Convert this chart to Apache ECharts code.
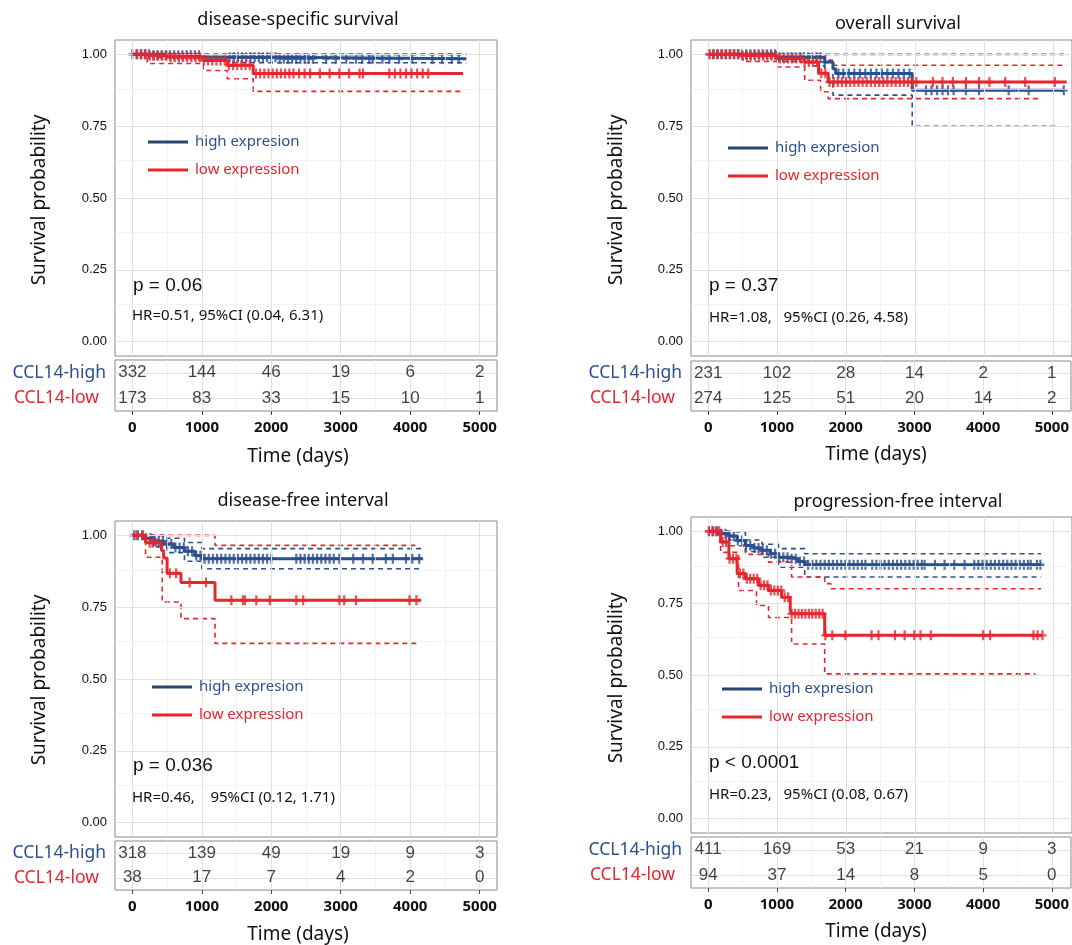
<!DOCTYPE html>
<html><head><meta charset="utf-8">
<script src="https://cdn.jsdelivr.net/npm/echarts@6/dist/echarts.min.js"></script>
<style>html,body{margin:0;padding:0;background:#fff}#c{width:1072px;height:945px}</style>
</head><body><div id="c"></div>
<script>
// ---------- data ----------
const timeTicks = [0, 1000, 2000, 3000, 4000, 5000];
const yTicks = [0, 0.25, 0.5, 0.75, 1];
const groups = ['CCL14-high', 'CCL14-low'];
const legendLabels = ['high expresion', 'low expression'];

// disease-specific survival
const dssHighSteps = [[0,1],[300,0.997],[1020,0.99],[2100,0.985],[4810,0.985]];
const dssHighUpper = [[0,1],[4810,1]];
const dssHighLower = [[0,1],[300,0.99],[1020,0.978],[1400,0.971],[4810,0.971]];
const dssLowSteps = [[0,1],[200,0.995],[500,0.99],[1020,0.979],[1365,0.962],[1740,0.933],[4760,0.933]];
const dssLowUpper = [[0,1],[4760,1]];
const dssLowLower = [[0,1],[215,0.968],[1020,0.944],[1365,0.915],[1740,0.871],[4760,0.871]];
const dssHighCensor = [0,60,120,180,240,300,360,420,480,540,600,660,720,780,840,900,960,1400,1460,1520,1580,1640,1700,1760,1820,1880,1940,2000,2060,2120,2180,2240,2300,2360,2420,2480,2540,2600,2790,2930,3080,3220,3310,3410,3460,3600,3700,3840,4030,4320,4460,4600,4700];
const dssLowCensor = [70,130,190,250,310,370,430,490,550,610,670,730,790,850,910,970,1030,1090,1150,1210,1270,1330,1390,1450,1510,1570,1630,1690,1780,1840,1900,1960,2020,2080,2140,2200,2260,2320,2400,2480,2560,2700,2840,2980,3120,3270,3320,3700,3780,3860,3940,4020,4100,4180,4260];
const dssHighRisk = [332, 144, 46, 19, 6, 2];
const dssLowRisk = [173, 83, 33, 15, 10, 1];

// overall survival
const osHighSteps = [[0,1],[1020,0.99],[1690,0.973],[1810,0.95],[1850,0.933],[2960,0.875],[5160,0.875]];
const osHighUpper = [[0,1],[5160,1]];
const osHighLower = [[0,1],[1020,0.975],[1500,0.96],[1690,0.93],[1810,0.858],[2960,0.75],[5040,0.75]];
const osLowSteps = [[0,1],[500,0.995],[1000,0.986],[1400,0.973],[1600,0.934],[1740,0.904],[5200,0.904]];
const osLowUpper = [[0,1],[1400,1],[1700,0.98],[1800,0.962],[5200,0.962]];
const osLowLower = [[0,1],[500,0.975],[1000,0.956],[1400,0.91],[1630,0.87],[1740,0.846],[4800,0.846]];
const osHighCensor = [10,70,130,190,250,310,370,430,490,550,610,670,730,790,850,910,970,1030,1090,1150,1210,1270,1330,1390,1450,1510,1570,1630,1690,1890,1960,2040,2120,2200,2280,2360,2440,2520,2600,2680,2760,2840,2920,3160,3240,3320,3400,3480,3560,3740,3930,4360,4650,5160];
const osLowCensor = [20,80,140,200,260,320,380,440,500,560,620,680,740,800,860,920,980,1040,1100,1160,1220,1280,1340,1400,1460,1520,1580,1640,1700,1760,1820,1880,1940,2000,2060,2120,2180,2240,2300,2360,2420,2480,2540,2600,2660,2720,2780,2840,2900,2960,3020,3260,3400,3550,3740,3930,4080,4310,4600,5030];
const osHighRisk = [231, 102, 28, 14, 2, 1];
const osLowRisk = [274, 125, 51, 20, 14, 2];

// disease-free interval
const dfiHighSteps = [[0,1],[150,0.99],[300,0.98],[450,0.97],[600,0.958],[750,0.945],[900,0.93],[1000,0.919],[4180,0.919]];
const dfiHighUpper = [[0,1],[500,0.99],[750,0.975],[1000,0.954],[4180,0.954]];
const dfiHighLower = [[0,1],[300,0.96],[500,0.94],[750,0.91],[1000,0.884],[4180,0.884]];
const dfiLowSteps = [[0,1],[190,0.974],[420,0.947],[450,0.921],[500,0.868],[700,0.836],[1190,0.774],[4160,0.774]];
const dfiLowUpper = [[0,1],[1190,0.965],[4130,0.965]];
const dfiLowLower = [[0,1],[190,0.924],[430,0.768],[700,0.71],[1190,0.624],[4130,0.624]];
const dfiHighCensor = [20,80,140,200,260,320,380,440,500,560,620,680,740,800,860,920,980,1040,1100,1160,1220,1280,1340,1400,1460,1520,1580,1640,1700,1760,1820,1880,1940,2000,2360,2420,2480,2540,2600,2660,2720,2780,2840,2900,2980,3180,3320,3460,3650,3750,3940,4030,4130];
const dfiLowCensor = [57,153,250,290,345,540,630,825,1060,1425,1590,1620,1785,1980,2360,2460,2980,3050,3220,3990,4090];
const dfiHighRisk = [318, 139, 49, 19, 9, 3];
const dfiLowRisk = [38, 17, 7, 4, 2, 0];

// progression-free interval
const pfiHighSteps = [[0,1],[150,0.992],[300,0.984],[420,0.968],[540,0.951],[660,0.942],[780,0.934],[900,0.922],[1020,0.91],[1210,0.905],[1300,0.895],[1400,0.884],[4830,0.884]];
const pfiHighUpper = [[0,1],[300,0.997],[540,0.97],[780,0.955],[1020,0.94],[1400,0.922],[4830,0.922]];
const pfiHighLower = [[0,1],[300,0.97],[540,0.93],[780,0.91],[1020,0.875],[1400,0.841],[4830,0.841]];
const pfiLowSteps = [[0,1],[180,0.963],[300,0.905],[420,0.853],[540,0.835],[730,0.812],[875,0.794],[1065,0.771],[1190,0.725],[1210,0.713],[1690,0.638],[4850,0.638]];
const pfiLowUpper = [[0,1],[300,0.95],[540,0.92],[875,0.893],[1210,0.841],[1690,0.818],[1780,0.80],[4830,0.80]];
const pfiLowLower = [[0,1],[180,0.927],[440,0.794],[700,0.742],[875,0.70],[1210,0.608],[1690,0.504],[4750,0.504]];
const pfiHighCensor = [10,70,130,190,250,310,370,430,490,550,610,670,730,790,850,910,970,1030,1090,1150,1210,1270,1330,1390,1450,1510,1570,1630,1690,1750,1810,1870,1930,1990,2050,2110,2170,2230,2280,2380,2440,2500,2560,2620,2680,2740,2800,2860,2920,2980,3040,3100,3140,3290,3430,3570,3720,3860,3920,3980,4040,4100,4160,4220,4280,4340,4400,4460,4520,4580,4640,4680,4770,4820];
const pfiLowCensor = [10,60,110,160,210,260,310,360,410,460,510,560,610,660,710,760,810,860,910,960,1010,1060,1110,1160,1210,1260,1310,1360,1410,1460,1510,1560,1610,1660,1700,1800,1990,2370,2470,2710,2850,2990,3080,3230,3990,4090,4720,4780,4850];
const pfiHighRisk = [411, 169, 53, 21, 9, 3];
const pfiLowRisk = [94, 37, 14, 8, 5, 0];

// ---------- layout / style ----------
const BLUE = '#2c4f8e', BLUE_LEG = '#26466f', RED = '#e6262d';
const FONT = 'Noto Sans', NUMFONT = 'Liberation Sans';
const PX_PER_DAY = 0.06947;

const panels = [
  {title:'disease-specific survival', hs:dssHighSteps, hu:dssHighUpper, hl:dssHighLower, ls:dssLowSteps, lu:dssLowUpper, ll:dssLowLower,
   hc:dssHighCensor, lc:dssLowCensor, hr:dssHighRisk, lr:dssLowRisk, p:'p = 0.06', hrText:'HR=0.51, 95%CI (0.04, 6.31)',
   plot:{left:115,top:40,width:382,height:316}, table:{left:115,top:360,width:382,height:51},
   tXY:[298,20], yXY:[40,200], xXY:[298,457], leg:[148,142], pXY:[133,286], hrXY:[132,316]},
  {title:'overall survival', hs:osHighSteps, hu:osHighUpper, hl:osHighLower, ls:osLowSteps, lu:osLowUpper, ll:osLowLower,
   hc:osHighCensor, lc:osLowCensor, hr:osHighRisk, lr:osLowRisk, p:'p = 0.37', hrText:'HR=1.08,   95%CI (0.26, 4.58)',
   plot:{left:691,top:40,width:384,height:316}, table:{left:691,top:361,width:384,height:50},
   tXY:[898,24], yXY:[617,200], xXY:[876,455], leg:[728,148], pXY:[709,286], hrXY:[709,318]},
  {title:'disease-free interval', hs:dfiHighSteps, hu:dfiHighUpper, hl:dfiHighLower, ls:dfiLowSteps, lu:dfiLowUpper, ll:dfiLowLower,
   hc:dfiHighCensor, lc:dfiLowCensor, hr:dfiHighRisk, lr:dfiLowRisk, p:'p = 0.036', hrText:'HR=0.46,    95%CI (0.12, 1.71)',
   plot:{left:115,top:521,width:382,height:316}, table:{left:115,top:841,width:382,height:49},
   tXY:[303,501], yXY:[40,680], xXY:[298,935], leg:[152,687], pXY:[133,766], hrXY:[132,798]},
  {title:'progression-free interval', hs:pfiHighSteps, hu:pfiHighUpper, hl:pfiHighLower, ls:pfiLowSteps, lu:pfiLowUpper, ll:pfiLowLower,
   hc:pfiHighCensor, lc:pfiLowCensor, hr:pfiHighRisk, lr:pfiLowRisk, p:'p < 0.0001', hrText:'HR=0.23,   95%CI (0.08, 0.67)',
   plot:{left:691,top:517,width:384,height:316}, table:{left:691,top:837,width:384,height:51},
   tXY:[898,502], yXY:[617,678], xXY:[876,932], leg:[722,689], pXY:[709,763], hrXY:[709,795]}
];

function survAt(steps, t) {
  let s = steps[0][1];
  for (const [tt, v] of steps) { if (tt <= t) s = v; else break; }
  return s;
}
const minorX = timeTicks.slice(0, -1).map((t, i) => (t + timeTicks[i + 1]) / 2);
const minorY = yTicks.slice(0, -1).map((t, i) => (t + yTicks[i + 1]) / 2);
const PLUS = 'path://M3.6,0L6.4,0L6.4,10L3.6,10ZM0,3.8L10,3.8L10,6.2L0,6.2Z';

const grid = [], xAxis = [], yAxis = [], series = [], graphic = [];
const MAJ = {color:'#e0e0e0', width:1.1, type:'solid'};
const MIN = {color:'#eeeeee', width:0.7, type:'solid'};

panels.forEach((P, i) => {
  const gp = 2 * i, gt = 2 * i + 1;
  grid.push(Object.assign({show:true, backgroundColor:'#fff', borderColor:'#888', borderWidth:1, containLabel:false}, P.plot));
  grid.push(Object.assign({show:true, backgroundColor:'#fff', borderColor:'#888', borderWidth:1, containLabel:false}, P.table));
  const xmax = 5250 + (P.plot.width - 382) / PX_PER_DAY;
  xAxis.push({gridIndex:gp, type:'value', min:-250, max:xmax, axisLine:{show:false}, splitLine:{show:false},
    axisTick:{show:true, customValues:timeTicks, length:4, lineStyle:{color:'#444'}}, axisLabel:{show:false}});
  xAxis.push({gridIndex:gt, type:'value', min:-250, max:xmax, axisLine:{show:false}, splitLine:{show:false},
    axisTick:{show:true, customValues:timeTicks, length:4, lineStyle:{color:'#444'}},
    axisLabel:{show:true, customValues:timeTicks, formatter:v => String(v), margin:9, fontFamily:FONT, fontSize:15, fontWeight:'bold', color:'#111'}});
  yAxis.push({gridIndex:gp, type:'value', min:-0.05, max:1.05, axisLine:{show:false}, splitLine:{show:false},
    axisTick:{show:true, customValues:yTicks, length:4, lineStyle:{color:'#444'}},
    axisLabel:{show:true, customValues:yTicks, formatter:v => v.toFixed(2), margin:8, fontFamily:NUMFONT, fontSize:13, color:'#111'}});
  yAxis.push({gridIndex:gt, type:'category', data:groups, inverse:true, axisLine:{show:false}, splitLine:{show:false},
    axisTick:{show:true, alignWithLabel:true, length:4, lineStyle:{color:'#444'}},
    axisLabel:{show:true, margin:9, formatter:v => v === groups[0] ? '{h|' + v + '}' : '{l|' + v + '}',
      rich:{h:{color:BLUE, fontFamily:FONT, fontSize:17.5}, l:{color:RED, fontFamily:FONT, fontSize:17.5, padding:[0,7,0,0]}}}});

  // gridlines
  const mlPlot = [];
  timeTicks.forEach(t => mlPlot.push({xAxis:t, lineStyle:MAJ}));
  minorX.forEach(t => mlPlot.push({xAxis:t, lineStyle:MIN}));
  yTicks.forEach(t => mlPlot.push({yAxis:t, lineStyle:MAJ}));
  minorY.forEach(t => mlPlot.push({yAxis:t, lineStyle:MIN}));
  series.push({type:'line', xAxisIndex:gp, yAxisIndex:gp, data:[], silent:true, z:1,
    markLine:{silent:true, symbol:['none','none'], label:{show:false}, animation:false, data:mlPlot}});
  const mlTab = [];
  timeTicks.forEach(t => mlTab.push({xAxis:t, lineStyle:MAJ}));
  minorX.forEach(t => mlTab.push({xAxis:t, lineStyle:MIN}));
  groups.forEach(g => mlTab.push({yAxis:g, lineStyle:MAJ}));
  series.push({type:'line', xAxisIndex:gt, yAxisIndex:gt, data:[], silent:true, z:1,
    markLine:{silent:true, symbol:['none','none'], label:{show:false}, animation:false, data:mlTab}});

  const stepLine = (data, color, dashed) => ({type:'line', xAxisIndex:gp, yAxisIndex:gp, step:'end', data:data,
    showSymbol:false, symbol:'none', silent:true, z:dashed ? 2 : 3,
    lineStyle:{color:color, width:dashed ? 1.6 : 3, type:dashed ? [5,4] : 'solid'}});
  const censor = (times, steps, color) => ({type:'scatter', xAxisIndex:gp, yAxisIndex:gp, silent:true, z:4,
    data:times.map(t => [t, survAt(steps, t)]), symbol:PLUS, symbolSize:[8,10], itemStyle:{color:color}});
  series.push(stepLine(P.hu, BLUE, true), stepLine(P.hl, BLUE, true), stepLine(P.lu, RED, true), stepLine(P.ll, RED, true));
  series.push(stepLine(P.hs, BLUE, false), censor(P.hc, P.hs, BLUE));
  const rl = stepLine(P.ls, RED, false); rl.z = 5; series.push(rl);
  const rc = censor(P.lc, P.ls, RED); rc.z = 6; series.push(rc);

  // risk table numbers
  [P.hr, P.lr].forEach((arr, gi) => {
    series.push({type:'scatter', xAxisIndex:gt, yAxisIndex:gt, silent:true, z:5, symbolSize:1,
      itemStyle:{color:'rgba(0,0,0,0)'},
      data:arr.map((v, k) => [timeTicks[k], groups[gi], v]),
      label:{show:true, position:'inside', formatter:p => String(p.value[2]), fontFamily:NUMFONT, fontSize:17, color:'#111'}});
  });

  // texts
  const T = (x, y, text, style, extra) => graphic.push(Object.assign({type:'text', x:x, y:y, z:100, silent:true,
    style:Object.assign({text:text, fill:'#111', verticalAlign:'middle'}, style)}, extra || {}));
  T(P.tXY[0], P.tXY[1], P.title, {fontFamily:FONT, fontSize:18, align:'center'});
  T(P.yXY[0], P.yXY[1], 'Survival probability', {fontFamily:FONT, fontSize:19, align:'center'}, {rotation:Math.PI / 2});
  T(P.xXY[0], P.xXY[1], 'Time (days)', {fontFamily:FONT, fontSize:19, align:'center'});
  [[BLUE_LEG, BLUE, 0], [RED, RED, 28]].forEach((c, k) => {
    const lx = P.leg[0], ly = P.leg[1] + c[2];
    graphic.push({type:'line', z:100, silent:true, shape:{x1:lx, y1:ly, x2:lx + 40, y2:ly}, style:{stroke:c[0], lineWidth:3}});
    T(lx + 47, ly, legendLabels[k], {fontFamily:FONT, fontSize:15, fill:c[1], align:'left'});
  });
  T(P.pXY[0], P.pXY[1], P.p, {fontFamily:NUMFONT, fontSize:19, align:'left'});
  T(P.hrXY[0], P.hrXY[1], P.hrText, {fontFamily:FONT, fontSize:15, align:'left'});
});

const chart = echarts.init(document.getElementById('c'));
chart.setOption({animation:false, backgroundColor:'#fff', grid, xAxis, yAxis, series, graphic});
</script></body></html>
